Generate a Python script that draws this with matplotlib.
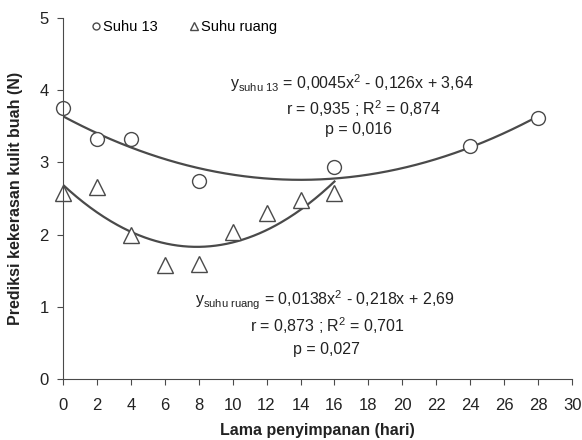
import numpy as np
import matplotlib
matplotlib.use("Agg")
import matplotlib.pyplot as plt

plt.rcParams['font.family'] = ['Liberation Sans', 'DejaVu Sans']
plt.rcParams['mathtext.fontset'] = 'custom'
plt.rcParams['mathtext.rm'] = 'Liberation Sans'
plt.rcParams['mathtext.it'] = 'Liberation Sans'

# Data
x13 = [0, 2, 4, 8, 16, 24, 28]
y13 = [3.75, 3.32, 3.33, 2.74, 2.93, 3.22, 3.61]
xr = [0, 2, 4, 6, 8, 10, 12, 14, 16]
yr = [2.57, 2.66, 2.00, 1.58, 1.59, 2.04, 2.30, 2.48, 2.57]
coef13 = [0.0045, -0.126, 3.64]
coefr = [0.0138, -0.218, 2.69]
xticks = list(range(0, 31, 2))
yticks = [0, 1, 2, 3, 4, 5]

col = '#4a4a4a'
fig = plt.figure(figsize=(5.82, 4.4), dpi=100)
ax = fig.add_axes([0.108, 0.139, 0.875, 0.82])

xx13 = np.linspace(min(x13), max(x13), 200)
xxr = np.linspace(min(xr), max(xr), 200)
ax.plot(xx13, np.polyval(coef13, xx13), color=col, lw=1.6)
ax.plot(xxr, np.polyval(coefr, xxr), color=col, lw=1.6)
ax.plot(x13, y13, 'o', ms=10, mfc='white', mec=col, mew=1.0, clip_on=False, label='Suhu 13')
ax.plot(xr, yr, '^', ms=11, mfc='white', mec=col, mew=1.0, clip_on=False, label='Suhu ruang')

ax.set_xlim(0, 30)
ax.set_ylim(0, 5)
ax.set_xticks(xticks)
ax.set_yticks(yticks)
for s in ['top', 'right']:
    ax.spines[s].set_visible(False)
for s in ['left', 'bottom']:
    ax.spines[s].set_color(col)
ax.tick_params(direction='out', length=4, color=col, labelsize=12, colors='#222222')
ax.tick_params(axis='x', pad=10)
ax.tick_params(axis='y', pad=6)

ax.set_xlabel('Lama penyimpanan (hari)', fontsize=11.5, fontweight='bold', color='#222222', labelpad=7)
ax.set_ylabel('Prediksi kekerasan kulit buah (N)', fontsize=11.5, fontweight='bold', color='#222222', labelpad=12)

leg = ax.legend(loc='upper left', bbox_to_anchor=(0.03, 1.03), ncol=2, frameon=False,
                markerscale=0.5, handlelength=0.6, handletextpad=0.2, columnspacing=2.2, fontsize=10.5)

fs = 11.5
ax.text(17.0, 4.10, r'y$_{\mathrm{suhu\ 13}}$ = 0,0045x$^{2}$ - 0,126x + 3,64', fontsize=fs, ha='center', va='center', color='#222222')
ax.text(17.7, 3.75, r'r = 0,935 ; R$^{2}$ = 0,874', fontsize=fs, ha='center', va='center', color='#222222')
ax.text(17.4, 3.45, 'p = 0,016', fontsize=fs, ha='center', va='center', color='#222222')

ax.text(15.4, 1.09, r'y$_{\mathrm{suhu\ ruang}}$ = 0,0138x$^{2}$ - 0,218x + 2,69', fontsize=fs, ha='center', va='center', color='#222222')
ax.text(15.6, 0.74, r'r = 0,873 ; R$^{2}$ = 0,701', fontsize=fs, ha='center', va='center', color='#222222')
ax.text(15.5, 0.40, 'p = 0,027', fontsize=fs, ha='center', va='center', color='#222222')

fig.savefig('out.png', dpi=100)
